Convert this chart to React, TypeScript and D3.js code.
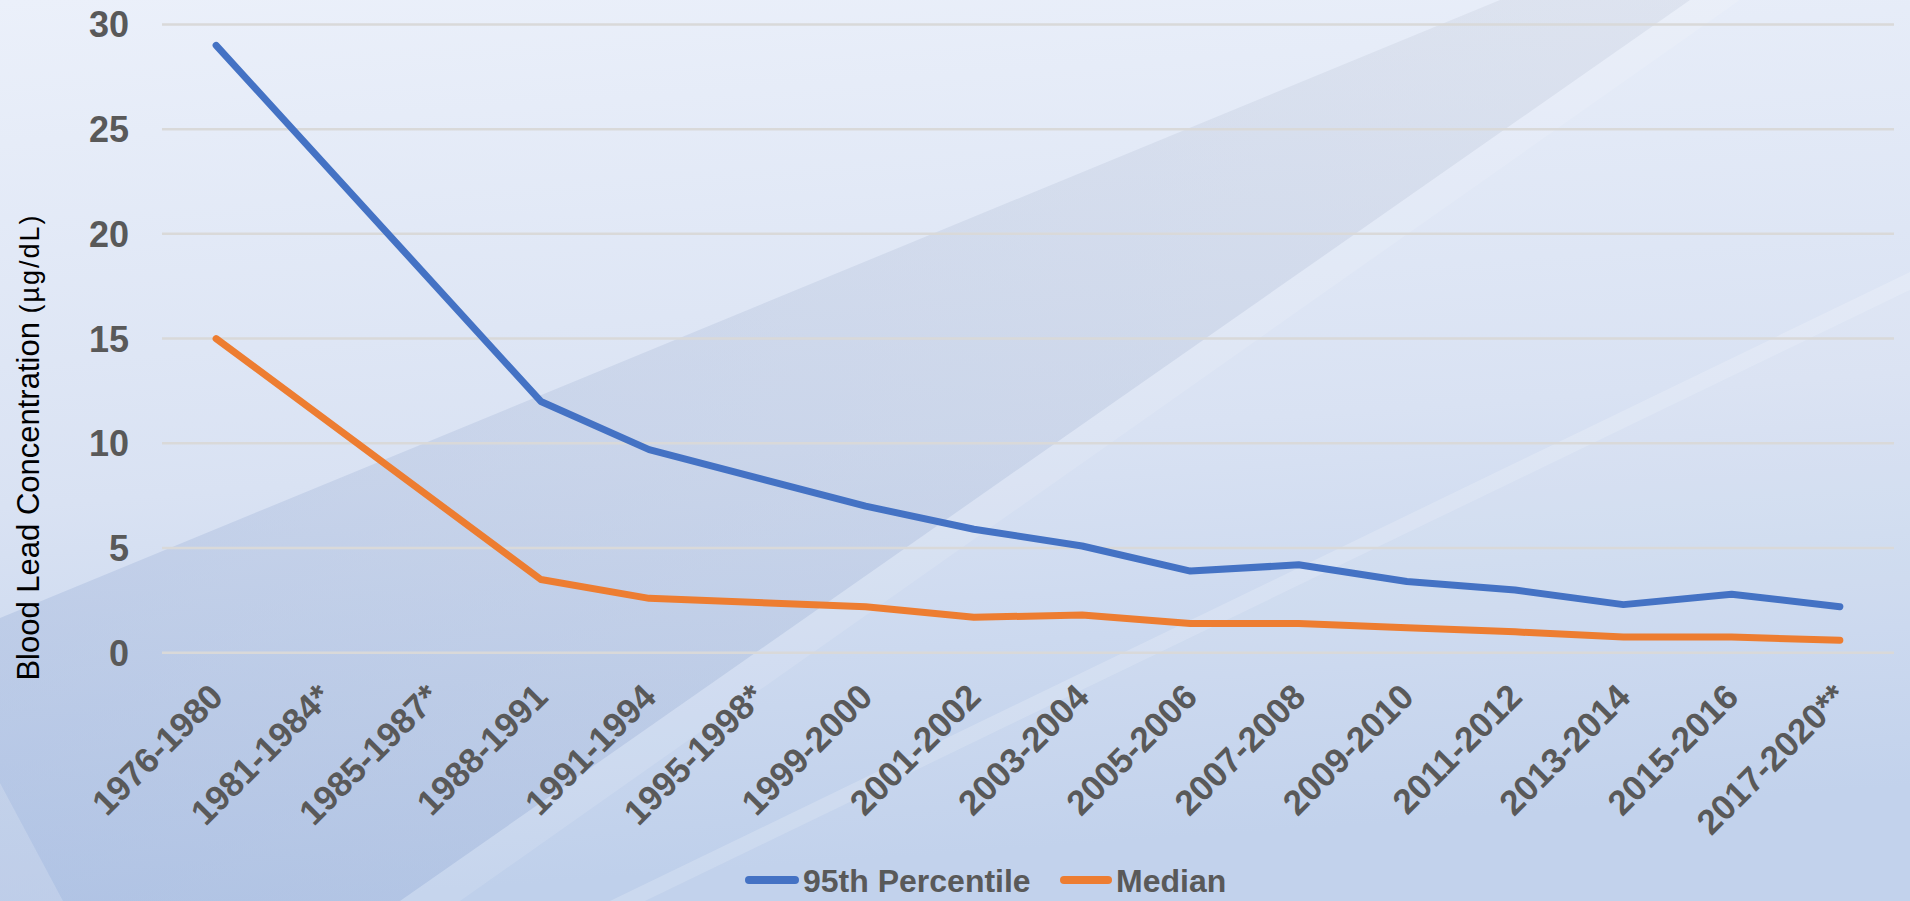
import React from "react";
import * as d3 from "d3";

// NHANES survey periods
const periods = [
  "1976-1980", "1981-1984*", "1985-1987*", "1988-1991", "1991-1994", "1995-1998*",
  "1999-2000", "2001-2002", "2003-2004", "2005-2006", "2007-2008", "2009-2010",
  "2011-2012", "2013-2014", "2015-2016", "2017-2020**",
];

// Blood lead levels (µg/dL); null = no survey data for that period
const p95Values: (number | null)[] = [
  29.0, null, null, 12.0, 9.7, null, 7.0, 5.9, 5.1, 3.9, 4.2, 3.4, 3.0, 2.3, 2.8, 2.2,
];
const medianValues: (number | null)[] = [
  15.0, null, null, 3.5, 2.6, null, 2.2, 1.7, 1.8, 1.4, 1.4, 1.2, 1.0, 0.75, 0.75, 0.6,
];

const yTicks = [0, 5, 10, 15, 20, 25, 30];

const seriesNames = ["95th Percentile", "Median"];
const seriesColors = ["#4472C4", "#ED7D31"];

const W = 1910;
const H = 901;
const FONT = "Arial, 'Liberation Sans', Helvetica, sans-serif";

export default function App() {
  const x = d3.scaleBand<string>().domain(periods).range([162, 1894]).padding(0);
  const cx = (p: string) => (x(p) as number) + x.bandwidth() / 2;
  const y = d3.scaleLinear().domain([0, 30]).range([652.8, 24.4]);

  const line = d3
    .line<{ p: string; v: number | null }>()
    .x((d) => cx(d.p))
    .y((d) => y(d.v as number));

  const toPts = (vals: (number | null)[]) =>
    periods.map((p, i) => ({ p, v: vals[i] })).filter((d) => d.v !== null);

  const series = [p95Values, medianValues];
  const legendY = 880;

  return (
    <svg
      width={W}
      height={H}
      style={{ position: "absolute", left: 0, top: 0, display: "block" }}
      fontFamily={FONT}
    >
      <defs>
        <linearGradient id="bg" x1="0" y1="0" x2="0.15" y2="1">
          <stop offset="0" stopColor="#EBF0FA" />
          <stop offset="0.55" stopColor="#D9E2F3" />
          <stop offset="1" stopColor="#BFD0EB" />
        </linearGradient>
        <linearGradient id="wedge" x1="0" y1="1" x2="1" y2="0">
          <stop offset="0" stopColor="#9DB3DC" stopOpacity="0.45" />
          <stop offset="1" stopColor="#C9CFDC" stopOpacity="0.32" />
        </linearGradient>
      </defs>

      {/* backdrop */}
      <rect x={0} y={0} width={W} height={H} fill="url(#bg)" />
      <polygon points="0,618 1500,0 1690,0 400,901 0,901" fill="url(#wedge)" />
      <polygon points="1690,0 1740,0 460,901 400,901" fill="#FFFFFF" opacity={0.12} />
      <polygon points="1910,272 1910,290 645,901 610,901" fill="#FFFFFF" opacity={0.2} />
      <polygon points="1910,290 1910,901 645,901" fill="#FFFFFF" opacity={0.06} />
      <polygon points="0,783 63,901 0,901" fill="#FFFFFF" opacity={0.18} />

      {/* gridlines */}
      {yTicks.map((t) => (
        <line
          key={t}
          x1={162}
          x2={1894}
          y1={y(t)}
          y2={y(t)}
          stroke="#D9D9D9"
          strokeWidth={2.5}
        />
      ))}

      {/* y tick labels */}
      {yTicks.map((t) => (
        <text
          key={t}
          x={129}
          y={y(t)}
          dy="0.36em"
          textAnchor="end"
          fontSize={36}
          fontWeight="bold"
          fill="#595959"
        >
          {t}
        </text>
      ))}

      {/* y axis title */}
      <text
        transform="translate(39,447) rotate(-90)"
        textAnchor="middle"
        fill="#000000"
      >
        <tspan fontSize={31}>Blood Lead Concentration </tspan>
        <tspan fontSize={27} letterSpacing={2}>(µg/dL)</tspan>
      </text>

      {/* x tick labels */}
      {periods.map((p) => (
        <text
          key={p}
          transform={`translate(${cx(p) + 9},699) rotate(-45)`}
          textAnchor="end"
          fontSize={35}
          fontWeight="bold"
          fill="#595959"
        >
          {p}
        </text>
      ))}

      {/* series lines */}
      {series.map((vals, i) => (
        <path
          key={i}
          d={line(toPts(vals)) as string}
          fill="none"
          stroke={seriesColors[i]}
          strokeWidth={7}
          strokeLinejoin="round"
          strokeLinecap="round"
        />
      ))}

      {/* legend */}
      <g>
        <line x1={749} x2={795} y1={legendY} y2={legendY} stroke={seriesColors[0]} strokeWidth={8} strokeLinecap="round" />
        <text x={803} y={legendY} dy="0.36em" fontSize={32} fontWeight="bold" fill="#595959">
          {seriesNames[0]}
        </text>
        <line x1={1064} x2={1108} y1={legendY} y2={legendY} stroke={seriesColors[1]} strokeWidth={8} strokeLinecap="round" />
        <text x={1116} y={legendY} dy="0.36em" fontSize={32} fontWeight="bold" fill="#595959">
          {seriesNames[1]}
        </text>
      </g>
    </svg>
  );
}
